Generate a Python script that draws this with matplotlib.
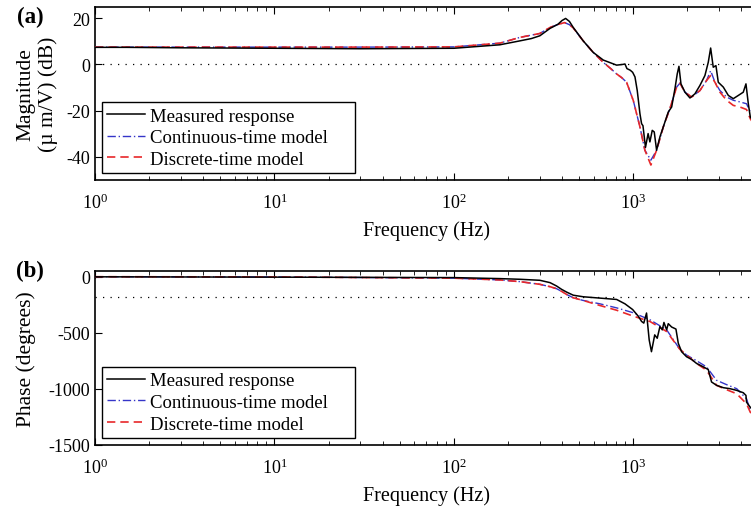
import numpy as np
import matplotlib
matplotlib.use("Agg")
import matplotlib.pyplot as plt
from matplotlib.ticker import LogLocator, NullFormatter

plt.rcParams['font.family'] = ['Liberation Serif', 'DejaVu Serif']
plt.rcParams['mathtext.fontset'] = 'stix'
plt.rcParams['axes.unicode_minus'] = False

# magnitude, measured (Hz, dB)
mag_meas_f = [1, 1.5, 3, 10, 30, 100, 180, 233, 270, 301, 343, 380, 400, 419, 440, 462, 525, 597,
              679, 806, 870, 897, 920, 960, 990, 1020, 1050, 1087, 1110, 1130, 1167, 1207, 1235,
              1273, 1306, 1346, 1405, 1467, 1563, 1633, 1703, 1754, 1793, 1840, 1937, 2065, 2201,
              2346, 2502, 2611, 2693, 2784, 2882, 2970, 3168, 3378, 3600, 3841, 4092, 4236, 4366,
              4478, 5000]
mag_meas_db = [7.4, 7.4, 7.2, 7.0, 6.8, 7.0, 8.5, 10.2, 11.2, 12.4, 15.6, 17.4, 19.0, 19.9, 18.6,
               16.0, 10.2, 5.2, 1.9, -0.3, 0.0, 0.2, -1.8, -2.5, -3.4, -5.4, -11.3, -21.3, -25.6,
               -26.5, -35.9, -29.9, -33.5, -28.5, -29.2, -37.1, -31.3, -27.0, -20.6, -18.4, -10.5,
               -4.1, -0.8, -8.4, -12.0, -14.5, -12.7, -9.1, -4.8, 0.9, 7.1, -1.2, -0.5, -7.7, -9.8,
               -13.4, -14.8, -13.4, -12.0, -8.4, -17.0, -22.7, -28.0]

# magnitude, models
mag_mod_f = [1, 10, 30, 100, 180, 233, 301, 343, 380, 413, 440, 462, 525, 597, 679, 750, 806, 860,
             916, 998, 1087, 1158, 1251, 1346, 1467, 1596, 1740, 1815, 1937, 2109, 2346, 2553,
             2693, 2845, 3034, 3305, 3600, 3920, 4268, 4478, 5000]
mag_ct_db = [7.5, 7.5, 7.5, 7.6, 9.2, 11.7, 13.4, 16.0, 17.3, 18.1, 17.2, 15.8, 10.2, 5.2, 0.9,
             -1.9, -4.1, -5.7, -7.7, -15.6, -27.0, -37.1, -41.4, -37.1, -27.0, -19.1, -9.8, -8.1,
             -12.0, -14.1, -11.3, -7.0, -2.7, -7.7, -11.3, -14.1, -15.5, -16.2, -17.0, -20.6,
             -26.0]
mag_dt_db = [7.5, 7.5, 7.5, 7.6, 9.2, 11.7, 13.4, 16.0, 17.3, 18.1, 17.2, 15.8, 10.2, 5.2, 0.9,
             -1.9, -4.1, -5.7, -7.7, -15.6, -27.0, -37.1, -43.5, -37.1, -27.0, -19.1, -9.8, -8.1,
             -12.0, -14.1, -11.3, -7.0, -4.8, -7.7, -12.0, -15.5, -17.7, -18.4, -19.5, -23.5,
             -29.0]

# phase, measured (Hz, degrees)
ph_meas_f = [1, 10, 100, 180, 233, 301, 343, 373, 398, 424, 462, 525, 651, 806, 897, 990, 1066,
             1110, 1142, 1183, 1224, 1260, 1314, 1357, 1405, 1448, 1479, 1531, 1563, 1633, 1725,
             1778, 1855, 1977, 2109, 2249, 2449, 2611, 2724, 2905, 3168, 3453, 3762, 4092, 4236,
             4268, 4478, 5000]
ph_meas_deg = [-2, -5, -9, -18, -24, -33, -54, -84, -114, -138, -166, -180, -192, -204, -243,
               -294, -355, -400, -415, -325, -565, -670, -520, -550, -445, -475, -409, -475, -420,
               -450, -468, -595, -670, -715, -739, -775, -805, -829, -940, -970, -991, -1000,
               -1015, -1036, -1060, -1120, -1166, -1230]

# phase, models
ph_mod_f = [1, 10, 100, 180, 233, 301, 343, 373, 398, 424, 462, 525, 651, 806, 990, 1235, 1531,
            1815, 1977, 2249, 2553, 2905, 3305, 3762, 4268, 4478, 5000]
ph_ct_deg = [-1, -3, -14, -30, -45, -69, -90, -108, -132, -159, -189, -213, -243, -279, -321,
             -385, -475, -649, -700, -751, -805, -925, -964, -1000, -1090, -1195, -1260]
ph_dt_deg = [-1, -3, -14, -30, -45, -69, -90, -108, -132, -159, -189, -213, -258, -300, -351,
             -400, -490, -649, -700, -775, -835, -970, -1009, -1045, -1135, -1210, -1280]

labels = ['Measured response', 'Continuous-time model', 'Discrete-time model']
blue = '#3535c8'
red = '#e8282a'


def style_axis(ax, ylim, yticks):
    ax.set_xscale('log')
    ax.set_xlim(1, 5000)
    ax.set_ylim(*ylim)
    ax.set_yticks(yticks)
    ax.xaxis.set_major_locator(LogLocator(base=10, numticks=10))
    ax.xaxis.set_minor_locator(LogLocator(base=10, subs=np.arange(2, 10), numticks=20))
    ax.xaxis.set_minor_formatter(NullFormatter())
    ax.tick_params(which='both', direction='in', top=True, right=False, labelsize=13)
    ax.tick_params(which='major', length=5, width=0.8)
    ax.tick_params(which='minor', length=3, width=0.6)
    ax.tick_params(axis='x', which='major', pad=9)
    ax.spines['right'].set_visible(False)
    for s in ['left', 'top', 'bottom']:
        ax.spines[s].set_linewidth(1.2)
    ax.set_xlabel('Frequency (Hz)', fontsize=14.5, labelpad=6)


def draw(ax, f_meas, meas, f_mod, ct, dt, ref):
    ax.axhline(ref, color='black', lw=0.9, ls=(0, (1, 5)), zorder=1)
    ax.plot(f_meas, meas, color='black', lw=1.1, label=labels[0], zorder=4)
    ax.plot(f_mod, ct, color=blue, lw=1.0, ls=(0, (6, 2, 1, 2)), label=labels[1], zorder=3)
    ax.plot(f_mod, dt, color=red, lw=1.2, ls=(0, (5, 3)), label=labels[2], zorder=3)
    leg = ax.legend(loc='lower left', bbox_to_anchor=(0.0105, 0.04, 0.381, 0.4), mode='expand',
                    borderaxespad=0, fontsize=13.5, fancybox=False, framealpha=1,
                    edgecolor='black', handlelength=2.0, handletextpad=0.3, labelspacing=0.24,
                    borderpad=0.28)
    leg.get_frame().set_linewidth(1.0)


fig = plt.figure(figsize=(7.51, 5.10), dpi=100)
ax1 = fig.add_axes([0.1265, 0.645, 0.884, 0.340])
ax2 = fig.add_axes([0.1265, 0.126, 0.884, 0.3407])

draw(ax1, mag_meas_f, mag_meas_db, mag_mod_f, mag_ct_db, mag_dt_db, 0)
style_axis(ax1, (-50, 25), [-40, -20, 0, 20])
ax1.set_ylabel('Magnitude\n(µ m/V) (dB)', fontsize=15.5, linespacing=1.15)
ax1.yaxis.set_label_coords(-0.056, 0.5)

draw(ax2, ph_meas_f, ph_meas_deg, ph_mod_f, ph_ct_deg, ph_dt_deg, -180)
style_axis(ax2, (-1500, 50), [-1500, -1000, -500, 0])
ax2.set_ylabel('Phase (degrees)', fontsize=15.5)
ax2.yaxis.set_label_coords(-0.089, 0.5)

fig.text(0.04, 1 - 17.5 / 510, '(a)', fontsize=16.5, fontweight='bold', ha='center', va='center')
fig.text(0.04, 1 - 271 / 510, '(b)', fontsize=16.5, fontweight='bold', ha='center', va='center')

fig.savefig('out.png', dpi=100)
